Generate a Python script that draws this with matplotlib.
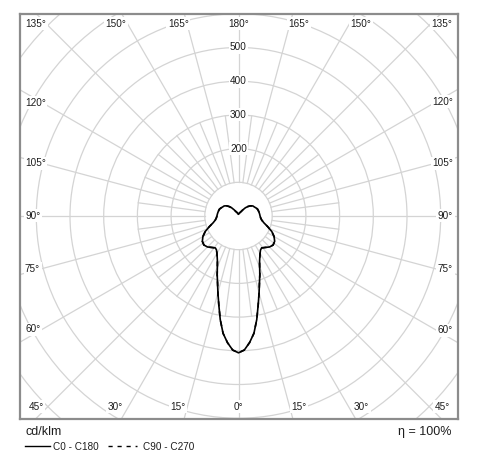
import numpy as np
import matplotlib
matplotlib.use("Agg")
import matplotlib.pyplot as plt
from matplotlib.patches import Circle
from matplotlib.lines import Line2D

plt.rcParams['font.family'] = ['Liberation Sans', 'DejaVu Sans']

# luminous intensity distribution (cd/klm), gamma measured from nadir
gamma = [0, 2.5, 5, 7.5, 10, 12.5, 15, 17.5, 20, 22.5, 25, 27.5, 30, 33, 36,
         40, 45, 50, 55, 60, 65, 70, 75, 80, 85, 90, 95, 100, 105, 110, 115,
         120, 125, 130, 135, 140, 145, 150, 160, 170, 180]
c0_c180 = [406, 398, 377, 351, 312, 270, 236, 207, 185, 164, 148, 137, 128, 120, 117,
           122, 130, 134, 131, 122, 109, 92, 78, 70, 66, 64, 63, 62, 61, 60, 57,
           54, 52, 47, 40, 32, 22, 15, 10, 7, 6]
c90_c270 = c0_c180

ring_values = [100, 200, 300, 400, 500, 600, 700, 800, 900]
ring_labels = [200, 300, 400, 500]
angle_ticks = [0, 15, 30, 45, 60, 75, 90, 105, 120, 135, 150, 165, 180]

grid_c = '#d4d4d4'
txt_c = '#1e1e1e'
W, H = 480, 461
box = (20, 14, 458, 419)      # left, top, right, bottom in px
cx, cy = 238.5, 216           # pole in px
scale = 0.337                 # px per cd/klm

fig = plt.figure(figsize=(W / 100, H / 100), dpi=100)
ax = fig.add_axes([box[0] / W, 1 - box[3] / H, (box[2] - box[0]) / W, (box[3] - box[1]) / H])
x0, x1 = (box[0] - cx) / scale, (box[2] - cx) / scale
y0, y1 = -(box[3] - cy) / scale, (cy - box[1]) / scale
ax.set_xlim(x0, x1)
ax.set_ylim(y0, y1)
ax.set_aspect('equal')
ax.set_xticks([])
ax.set_yticks([])
for s in ax.spines.values():
    s.set_color('#8c8c8c')
    s.set_linewidth(1.6)

# grid circles
for r in ring_values:
    ax.add_patch(Circle((0, 0), r, fill=False, ec=grid_c, lw=0.9, zorder=1))

# radial lines: 15 deg full length, 7.5 deg short ones
for a in np.arange(0, 360, 7.5):
    t = np.radians(a)
    r_end = 1000 if a % 15 == 0 else 300
    ax.plot([100 * np.sin(t), r_end * np.sin(t)], [-100 * np.cos(t), -r_end * np.cos(t)],
            color=grid_c, lw=0.9, zorder=1)

lab_kw = dict(fontsize=7.2, color=txt_c, zorder=5,
              bbox=dict(boxstyle='square,pad=0.15', fc='white', ec='none'))

# radius labels
for r in ring_labels:
    ax.text(0, r, str(r), ha='center', va='center', **lab_kw)

# angle labels
ytop = y1 - 10 / scale
ybot = y0 + 12 / scale
xside = 22 / scale
off = 6 / scale
for g in angle_ticks:
    t = np.radians(g)
    for side in (-1, 1):
        if side == -1 and g in (0, 180):
            continue
        if g >= 135 or g <= 45:
            yy = ytop if g >= 135 else ybot
            yedge = y1 if g >= 135 else y0
            xx = side * abs(yedge * np.tan(t))
            if g not in (0, 180):
                xx += side * off
            xx = np.clip(xx, x0 + 16 / scale, x1 - 16 / scale)
            ax.text(xx, yy, f'{g}°', ha='center', va='center', **lab_kw)
        else:
            xl = (x1 if side > 0 else x0)
            xr = xl - side * xside
            yy = -abs(xr) * np.cos(t) / np.sin(t)
            xt = xl - side * 5 / scale
            ax.text(xt, yy, f'{g}°', ha='right' if side > 0 else 'left', va='center', **lab_kw)

# curves
g = np.radians(np.array(gamma))
for data, ls in ((c90_c270, (0, (3, 3))), (c0_c180, '-')):
    I = np.array(data)
    xs = np.concatenate([-(I * np.sin(g))[::-1], (I * np.sin(g))[1:]])
    ys = np.concatenate([-(I * np.cos(g))[::-1], -(I * np.cos(g))[1:]])
    ax.plot(xs, ys, color='black', lw=1.2, ls=ls, zorder=4)

# footer
fig.text(25 / W, 1 - 432 / H, 'cd/klm', ha='left', va='center', fontsize=9, color=txt_c)
fig.text(451 / W, 1 - 432 / H, 'η = 100%', ha='right', va='center', fontsize=9, color=txt_c)
fig.add_artist(Line2D([25 / W, 50 / W], [1 - 446 / H] * 2, color='black', lw=1))
fig.text(53 / W, 1 - 447 / H, 'C0 - C180', ha='left', va='center', fontsize=7.2, color=txt_c)
fig.add_artist(Line2D([108 / W, 137 / W], [1 - 446 / H] * 2, color='black', lw=1, ls=(0, (3, 3.5))))
fig.text(143 / W, 1 - 447 / H, 'C90 - C270', ha='left', va='center', fontsize=7.2, color=txt_c)

fig.savefig('out.png', dpi=100)
